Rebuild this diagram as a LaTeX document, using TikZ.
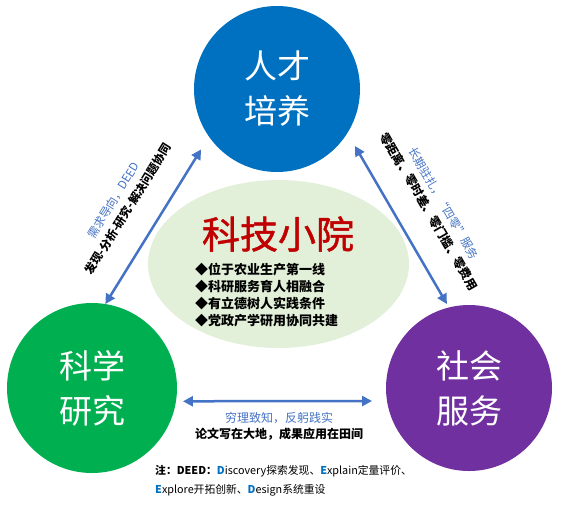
\documentclass[tikz,border=0pt]{standalone}
\usepackage{fontspec}
\setmainfont{Noto Sans CJK SC}
\newfontfamily\titlefont{Noto Sans CJK SC}[FakeBold=1.2]
\usetikzlibrary{arrows.meta,calc,shapes.geometric}
\definecolor{cblue}{HTML}{0070C0}
\definecolor{cgreen}{HTML}{00B050}
\definecolor{cpurple}{HTML}{7030A0}
\definecolor{cell}{HTML}{E2F0D9}
\definecolor{cred}{HTML}{C00000}
\definecolor{carrow}{HTML}{4472C4}
\begin{document}
\begin{tikzpicture}[x=1pt,y=-1pt,
  bigcircle/.style={circle, minimum size=#1, inner sep=0pt, outer sep=0pt, text=white, align=center, font=\fontsize{33}{45}\selectfont},
  link/.style={draw=carrow, line width=2.5pt, {Triangle[length=10pt,width=10pt]}-{Triangle[length=10pt,width=10pt]}},
  sidelbl/.style={sloped, inner sep=0pt, align=center, font=\fontsize{#1}{17}\selectfont},
  ]
\useasboundingbox (0,0) rectangle (561,507);
% central ellipse
\node[ellipse, fill=cell, minimum width=261pt, minimum height=168pt, inner sep=0pt] (yard) at (278.5,264) {};
\node[text=cred, font=\fontsize{38}{40}\titlefont] (title) at (278,234) {科技小院};
\node[anchor=west, align=left, inner sep=0pt, font=\fontsize{13}{16.7}\selectfont\bfseries] (bullets) at (195,295) {◆位于农业生产第一线\\◆科研服务育人相融合\\◆有立德树人实践条件\\◆党政产学研用协同共建};
% circles
\node[bigcircle=166pt, fill=cblue] (top) at (277,89) {人才\\培养};
\node[bigcircle=170pt, fill=cgreen] (sci) at (92,388) {科学\\研究};
\node[bigcircle=166pt, fill=cpurple] (soc) at (469,388) {社会\\服务};
% connectors
\draw[link, shorten >=15pt] (sci.81) -- (top.215);
\draw[link, shorten <=15pt, shorten >=4pt] (top.-32) -- (soc.104.5);
\draw[link, shorten <=7pt, shorten >=15pt] (sci.-9) -- (soc.189);
% labels
\path (sci.81) -- (top.215) node[sidelbl=11.5, pos=0.47, above=25pt] (llbl) {{\color{carrow}需求导向，DEED}\\{\bfseries 发现-分析-研究-解决问题协同}};
\path (top.-32) -- (soc.104.5) node[sidelbl=12, pos=0.54, above=25pt] (rlbl) {{\color{carrow}\fontsize{11.5}{17}\selectfont 长期驻扎，“四零”服务}\\{\bfseries 零距离、零时差、零门槛、零费用}};
\node[align=center, inner sep=0pt, font=\fontsize{12}{16}\selectfont] (blbl) at (279,426) {{\color{carrow}穷理致知，反躬践实}\\{\bfseries 论文写在大地，成果应用在田间}};
% note
\node[anchor=west, align=left, inner sep=0pt, font=\fontsize{10.8}{19}\selectfont] (note) at (155,480.5) {{\bfseries 注：DEED：}{\color{cblue}\bfseries D}iscovery探索发现、{\color{cblue}\bfseries E}xplain定量评价、\\{\color{cblue}\bfseries E}xplore开拓创新、{\color{cblue}\bfseries D}esign系统重设};
\end{tikzpicture}
\end{document}
